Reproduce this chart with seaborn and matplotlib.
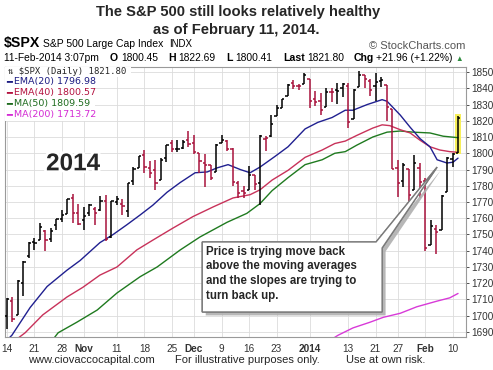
import numpy as np
import pandas as pd
import seaborn as sns
import matplotlib.pyplot as plt
from matplotlib.patches import Rectangle, Polygon
import matplotlib.patheffects as pe

# $SPX daily bars, 14-Oct-2013 .. 11-Feb-2014, one entry per trading day
opens = [1699.9, 1709.2, 1700.5, 1720.2, 1736.7, 1745.2, 1746.5, 1752.3, 1747.5, 1756.0,
         1759.4, 1762.9, 1772.3, 1763.2, 1758.7, 1763.4, 1765.7, 1765.0, 1770.7, 1748.4,
         1769.7, 1769.0, 1764.4, 1782.8, 1790.7, 1798.8, 1790.8, 1789.6, 1783.5, 1797.2,
         1806.3, 1802.9, 1803.5, 1808.0, 1806.6, 1800.1, 1794.2, 1792.8, 1788.4, 1806.2,
         1807.5, 1802.8, 1781.7, 1777.0, 1777.5, 1786.5, 1781.5, 1809.0, 1810.4, 1822.9,
         1828.0, 1835.0, 1843.0, 1841.5, 1842.6, 1845.9, 1833.2, 1832.3, 1828.7, 1837.9,
         1839.0, 1840.1, 1841.3, 1821.0, 1840.5, 1848.0, 1844.2, 1841.1, 1844.7, 1842.3,
         1827.0, 1791.0, 1783.0, 1790.2, 1777.2, 1790.9, 1782.7, 1743.8, 1753.4, 1753.0,
         1776.0, 1796.2, 1800.45]
highs = [1711.0, 1711.6, 1721.8, 1733.5, 1745.3, 1747.8, 1757.0, 1752.7, 1753.7, 1759.8,
         1765.0, 1772.1, 1775.2, 1768.5, 1767.0, 1768.8, 1767.0, 1773.7, 1774.5, 1770.8,
         1773.4, 1771.8, 1782.0, 1791.5, 1798.2, 1802.3, 1795.5, 1795.7, 1797.2, 1804.8,
         1808.1, 1808.4, 1808.3, 1813.6, 1811.0, 1800.1, 1799.8, 1792.8, 1806.0, 1811.5,
         1808.4, 1803.0, 1783.0, 1780.0, 1792.2, 1786.8, 1811.1, 1810.9, 1823.8, 1829.8,
         1833.3, 1842.8, 1844.9, 1842.5, 1849.4, 1845.9, 1838.2, 1837.2, 1840.1, 1840.0,
         1843.2, 1843.2, 1843.5, 1839.3, 1850.8, 1848.0, 1846.0, 1849.3, 1846.9, 1842.3,
         1827.0, 1796.0, 1793.9, 1790.2, 1798.8, 1793.9, 1784.8, 1758.7, 1755.8, 1774.1,
         1798.0, 1799.9, 1822.69]
lows = [1692.1, 1695.9, 1700.5, 1712.0, 1735.7, 1740.7, 1746.5, 1740.1, 1745.5, 1752.5,
        1757.7, 1762.9, 1757.2, 1755.7, 1752.7, 1761.6, 1755.8, 1764.4, 1746.2, 1747.6,
        1767.9, 1762.3, 1760.6, 1780.2, 1790.7, 1788.0, 1784.7, 1777.2, 1783.5, 1794.7,
        1800.6, 1800.8, 1802.8, 1803.9, 1799.8, 1787.9, 1779.1, 1783.4, 1788.4, 1806.2,
        1801.4, 1780.1, 1772.3, 1772.4, 1777.5, 1777.1, 1768.0, 1801.4, 1810.3, 1822.9,
        1828.0, 1835.0, 1839.8, 1838.8, 1842.4, 1827.7, 1829.1, 1823.7, 1828.7, 1831.4,
        1830.4, 1834.4, 1815.5, 1821.0, 1840.5, 1840.3, 1835.2, 1832.4, 1840.9, 1820.1,
        1790.3, 1772.9, 1779.5, 1770.5, 1777.2, 1772.3, 1739.7, 1743.8, 1737.9, 1753.0,
        1776.0, 1791.8, 1800.41]
closes = [1710.1, 1698.1, 1721.5, 1733.2, 1744.5, 1744.7, 1754.7, 1746.4, 1752.1, 1759.8,
          1762.1, 1772.0, 1763.3, 1756.5, 1761.6, 1767.9, 1763.0, 1770.5, 1747.2, 1770.6,
          1771.9, 1767.7, 1782.0, 1790.6, 1798.2, 1791.5, 1787.9, 1781.4, 1795.9, 1804.8,
          1802.5, 1802.8, 1807.2, 1805.8, 1800.9, 1795.2, 1792.8, 1785.0, 1805.1, 1808.4,
          1802.6, 1782.2, 1775.5, 1775.3, 1786.5, 1781.0, 1810.7, 1809.6, 1818.3, 1828.0,
          1833.3, 1842.0, 1841.4, 1841.1, 1848.4, 1832.0, 1831.4, 1826.8, 1837.9, 1837.5,
          1838.1, 1842.4, 1819.2, 1838.9, 1848.4, 1845.9, 1838.7, 1843.8, 1844.9, 1828.5,
          1790.3, 1781.6, 1792.5, 1774.2, 1794.2, 1782.6, 1741.9, 1755.2, 1751.6, 1773.4,
          1797.0, 1799.8, 1821.80]

# moving averages (bar position, value)
ema20_pos = [0, 0.9, 4.2, 7.3, 10.9, 13.3, 16.9, 19.3, 21.8, 24.2, 26.5, 29.1, 31.5, 34.2,
             36.4, 38.2, 40.2, 42.4, 44.2, 46.0, 48.7, 51.1, 54.2, 56.5, 59.1, 61.5, 62.9,
             65.5, 68.2, 69.1, 71.5, 73.3, 75.1, 76.9, 78.2, 80.0, 81.1, 82.0]
ema20_val = [1685, 1688, 1705, 1718, 1728, 1734, 1745, 1750, 1756, 1762, 1768, 1776, 1782, 1788,
             1788.5, 1791, 1793, 1790, 1788, 1791.5, 1798, 1804, 1815, 1819, 1822, 1826.5, 1826.5,
             1830, 1833, 1832, 1823.5, 1816, 1809, 1804, 1796, 1794, 1794.5, 1797.0]
ema40_pos = [0, 3.3, 6.5, 10.9, 13.8, 16.9, 20.0, 23.6, 26.5, 30.2, 33.8, 37.5, 41.1, 44.2,
             46.0, 48.2, 51.1, 54.2, 57.3, 59.6, 61.5, 63.6, 66.5, 68.2, 69.6, 71.5, 73.3,
             75.1, 76.9, 78.7, 80.5, 82.0]
ema40_val = [1681, 1689.5, 1700.5, 1711.5, 1717.5, 1725, 1730, 1740.5, 1746.5, 1754, 1761, 1767,
             1772.5, 1774.5, 1777.5, 1783.5, 1789.5, 1797.5, 1802, 1806, 1807.5, 1811, 1815.5,
             1817.5, 1817, 1814.5, 1812.5, 1808, 1804, 1802, 1801, 1800.6]
ma50_pos = [8.5, 9.3, 12.7, 16.4, 20.0, 24.2, 27.3, 31.5, 35.1, 40.0, 43.6, 46.0, 48.2, 51.1,
            54.2, 57.3, 59.6, 61.5, 63.6, 66.5, 69.1, 71.5, 73.8, 76.9, 79.3, 82.0]
ma50_val = [1686, 1689.5, 1696, 1703.5, 1714, 1724, 1730, 1740.5, 1748.5, 1757.5, 1763, 1769,
            1777, 1785, 1793, 1796, 1800, 1801, 1805, 1810, 1813, 1813.7, 1813, 1812.5,
            1810.5, 1809.6]
ma200_pos = [59.5, 60.2, 62.9, 66.0, 68.4, 71.5, 74.5, 78.2, 80.5, 82.0]
ma200_val = [1686.5, 1688, 1692.5, 1696, 1699, 1701.5, 1705.5, 1709, 1711, 1713.7]

tick_pos = [0, 5, 10, 14, 20, 25, 30, 34, 39, 44, 49, 55, 62, 67, 71, 76, 81]
tick_lab = ['14', '21', '28', 'Nov', '11', '18', '25', 'Dec', '9', '16', '23', '2014',
            '13', '21', '27', 'Feb', '10']
bold_ticks = {'Nov', 'Dec', '2014', 'Feb'}

legend_rows = [('EMA(20) 1796.98', '#1c1c82'), ('EMA(40) 1800.57', '#b3123f'),
               ('MA(50) 1809.59', '#1d6b1d'), ('MA(200) 1713.72', '#d42ad4')]

W, H = 493, 370
sns.set_theme(style='white')
plt.rcParams['font.family'] = ['Liberation Sans', 'DejaVu Sans']

fig = plt.figure(figsize=(W / 100, H / 100), dpi=100)
ax = fig.add_axes([5 / W, 1 - 337 / H, 461 / W, 270 / H])

n = len(closes)
df = pd.DataFrame({'i': np.arange(n), 'o': opens, 'h': highs, 'l': lows, 'c': closes})
prev = df['c'].shift(1).fillna(df['o'])
df['col'] = np.where(df['c'] >= prev, 'black', '#a8123c')

# yellow highlight around the last bar
last = df.iloc[-1]
ax.add_patch(Rectangle((last['i'] - 0.55, last['l'] - 0.6), 1.1, last['h'] - last['l'] + 2.2,
                       facecolor='#f7ef5a', edgecolor='none', zorder=1))

sns.lineplot(x=ma200_pos, y=ma200_val, ax=ax, color='#d83ad8', lw=1, zorder=2)
sns.lineplot(x=ma50_pos, y=ma50_val, ax=ax, color='#1f7a1f', lw=1, zorder=2)
sns.lineplot(x=ema40_pos, y=ema40_val, ax=ax, color='#c8325a', lw=1, zorder=2)
sns.lineplot(x=ema20_pos, y=ema20_val, ax=ax, color='#202090', lw=1, zorder=2)

ax.vlines(df['i'], df['l'], df['h'], colors=df['col'], lw=1.1, zorder=3)
ax.hlines(df['o'], df['i'] - 0.45, df['i'], colors=df['col'], lw=1.1, zorder=3)
ax.hlines(df['c'], df['i'], df['i'] + 0.45, colors=df['col'], lw=1.1, zorder=3)

ax.set_xlim(-0.36, 83.45)
ax.set_ylim(1686.9, 1853.1)
ax.set_yticks(np.arange(1690, 1851, 10))
ax.yaxis.tick_right()
ax.set_xticks(tick_pos)
ax.set_xticklabels(tick_lab)
for t in ax.get_xticklabels():
    if t.get_text() in bold_ticks:
        t.set_fontweight('bold')
ax.set_xticks(np.arange(n), minor=True)
ax.tick_params(axis='y', labelsize=7.2, length=2, pad=2, colors='#333333', width=0.6)
ax.tick_params(axis='x', which='major', labelsize=7.2, length=3, pad=2, colors='#333333', width=0.6)
ax.tick_params(axis='x', which='minor', length=1.5, width=0.5, color='#888888')
ax.grid(True, color='#dcdcdc', lw=0.6)
ax.set_axisbelow(True)
for s in ax.spines.values():
    s.set_color('#9a9a9a')
    s.set_linewidth(0.8)
ax.set_xlabel('')
ax.set_ylabel('')

# legend block, top-left inside the plot
ax.add_patch(Rectangle((0, (337 - 121) / 270), 90 / 461, 1, transform=ax.transAxes,
                       facecolor='white', edgecolor='none', zorder=4))
ax.add_patch(Rectangle((0, (337 - 77) / 270), 126 / 461, 1, transform=ax.transAxes,
                       facecolor='white', edgecolor='none', zorder=4))
ax.text(3 / 461, (337 - 71) / 270, '⇅ $SPX (Daily) 1821.80', transform=ax.transAxes,
        fontsize=6.4, family='DejaVu Sans Mono', va='center', zorder=5)
for k, (lab, colr) in enumerate(legend_rows):
    yy = (337 - (81.5 + 11 * k)) / 270
    ax.text(1 / 461, yy, '━', transform=ax.transAxes, color=colr, fontsize=7,
            family='DejaVu Sans', va='center', zorder=5)
    ax.text(9 / 461, yy, lab, transform=ax.transAxes, color=colr, fontsize=6.8,
            family='DejaVu Sans', va='center', zorder=5)

ax.text(12.0, 1793.5, '2014', fontsize=17.5, fontweight='bold', ha='center', va='center',
        zorder=5, path_effects=[pe.withStroke(linewidth=4, foreground='white')])

# callout box
callout = [(35.5, 1745.4), (67.1, 1745.4), (78.2, 1791.5), (68.2, 1741.7),
           (68.2, 1702.3), (35.5, 1702.3)]
ax.add_patch(Polygon(callout, closed=True, facecolor='white', edgecolor='#7a7a7a', lw=1,
                     zorder=6, path_effects=[pe.withSimplePatchShadow(offset=(2.5, -2.5),
                                                                      shadow_rgbFace='#b0b0b0', alpha=0.9),
                                             pe.Normal()]))
ax.text(36.1, 1743.2, 'Price is trying move back\nabove the moving averages\n'
        'and the slopes are trying to\nturn back up.', fontsize=8.3, fontweight='bold',
        va='top', ha='left', linespacing=1.32, zorder=7)

# title
fig.text(238 / W, 1 - 12 / H, 'The S&P 500 still looks relatively healthy', fontsize=10.6,
         fontweight='bold', ha='center', va='center')
fig.text(236 / W, 1 - 30 / H, 'as of February 11, 2014.', fontsize=10.6,
         fontweight='bold', ha='center', va='center')

# header lines


def text_run(parts, x0, base):
    prev = None
    for s, size, weight, colr, gap in parts:
        if prev is None:
            prev = fig.text(x0 / W, 1 - base / H, s, fontsize=size, fontweight=weight,
                            color=colr, va='baseline', ha='left')
        else:
            prev = ax.annotate(s, xy=(1, H - base), xycoords=(prev, 'figure pixels'),
                               xytext=(gap, 0), textcoords='offset points', fontsize=size,
                               fontweight=weight, color=colr, va='baseline', ha='left',
                               annotation_clip=False)


text_run([('$SPX', 10.2, 'bold', 'black', 0),
          ('S&P 500 Large Cap Index', 7.5, 'normal', 'black', 2),
          ('INDX', 7.0, 'normal', 'black', 4)], 4, 47)
text_run([('11-Feb-2014 3:07pm', 7.4, 'normal', 'black', 0),
          ('O', 7.6, 'bold', 'black', 8), ('1800.45', 7.4, 'normal', 'black', 2),
          ('H', 7.6, 'bold', 'black', 7.5), ('1822.69', 7.4, 'normal', 'black', 2),
          ('L', 7.6, 'bold', 'black', 7.5), ('1800.41', 7.4, 'normal', 'black', 2),
          ('Last', 7.6, 'bold', 'black', 7.5), ('1821.80', 7.4, 'normal', 'black', 2),
          ('Chg', 7.6, 'bold', 'black', 6.5), ('+21.96 (+1.22%)', 7.4, 'normal', 'black', 2),
          ('▲', 5.5, 'normal', '#2e8b3e', 2)], 4, 61)
fig.text(465 / W, 1 - 49 / H, '© StockCharts.com', fontsize=8, color='#555555',
         ha='right', va='baseline')

# footer
fig.text(28 / W, 1 - 363 / H, 'www.ciovaccocapital.com', fontsize=8, ha='left', va='baseline')
fig.text(175 / W, 1 - 363 / H, 'For illustrative purposes only.', fontsize=8, ha='left', va='baseline')
fig.text(346 / W, 1 - 363 / H, 'Use at own risk.', fontsize=8, ha='left', va='baseline')

fig.savefig('out.png', dpi=100, facecolor='white')
